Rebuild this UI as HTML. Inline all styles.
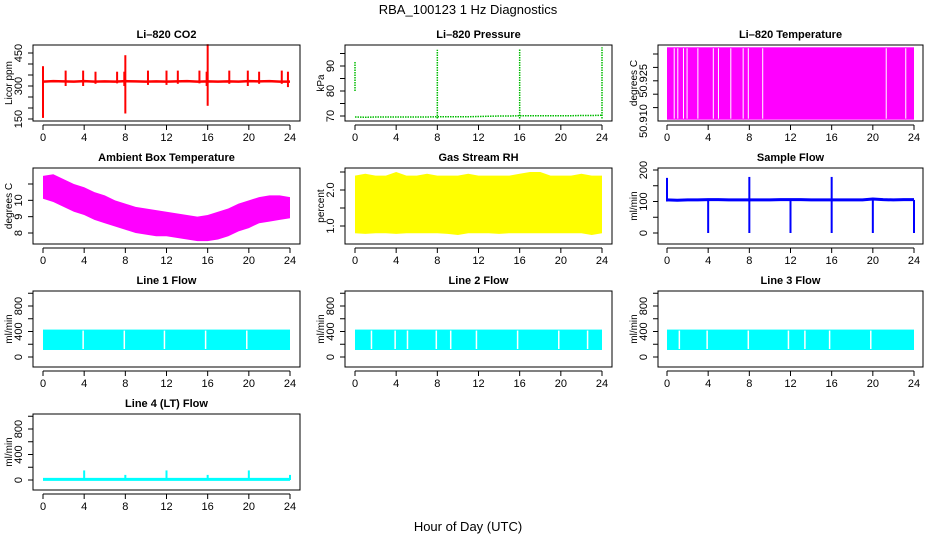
<!DOCTYPE html>
<html><head><meta charset="utf-8"><style>
body{margin:0;background:#fff}
svg text{font-family:"Liberation Sans",sans-serif;fill:#000}
</style></head><body>
<svg id="c" width="936" height="540" xmlns="http://www.w3.org/2000/svg">
<text x="468" y="14" text-anchor="middle" font-size="13">RBA_100123  1 Hz Diagnostics</text>
<text x="468" y="531" text-anchor="middle" font-size="13">Hour of Day (UTC)</text>
</svg>
<script>
const hours = [0,1,2,3,4,5,6,7,8,9,10,11,12,13,14,15,16,17,18,19,20,21,22,23,24];
const xTicks = [0,4,8,12,16,20,24];
const co2Base = [320,322,321,320,322,320,321,320,322,321,320,321,320,321,322,320,321,320,321,320,322,321,322,320,320];
const co2SpikeHours = [0,2.2,3.9,5.1,7.2,7.9,8,10.2,12,13.1,15.2,15.9,16,18.1,19.9,21,23.2,23.8];
const co2SpikeHi = [390,370,370,365,365,365,440,370,370,370,370,365,490,370,370,365,370,365];
const co2SpikeLo = [155,300,300,310,312,300,175,305,305,310,312,300,210,310,300,310,310,295];
const presBase = [69.6,69.5,69.6,69.6,69.6,69.6,69.6,69.6,69.7,69.7,69.7,69.7,69.8,69.9,70.0,70.0,70.1,70.1,70.1,70.1,70.1,70.1,70.2,70.2,70.3];
const presJumpHours = [0,8,16,24];
const presJumpLo = [80,69,69,69];
const presJumpHi = [92,96.5,97,97.5];
const tempLo = 50.9105, tempHi = 50.9375;
const tempGaps = [0.7,1.05,1.6,1.95,3.0,4.5,5.0,6.2,7.4,7.9,9.3,21.3,23.2];
const ambMax = [11.5,11.6,11.3,11.0,10.8,10.5,10.3,10.0,9.8,9.6,9.5,9.4,9.3,9.2,9.1,9.0,9.1,9.3,9.5,9.8,10.0,10.2,10.3,10.3,10.2];
const ambMin = [10.1,9.9,9.6,9.3,9.1,8.8,8.6,8.4,8.2,8.0,7.9,7.8,7.8,7.7,7.6,7.5,7.5,7.6,7.8,8.1,8.3,8.6,8.7,8.8,8.9];
const rhMax = [2.4,2.45,2.4,2.4,2.5,2.4,2.4,2.45,2.4,2.4,2.4,2.45,2.4,2.4,2.4,2.4,2.45,2.5,2.5,2.4,2.4,2.4,2.45,2.4,2.4];
const rhMin = [0.8,0.78,0.8,0.8,0.78,0.8,0.8,0.8,0.8,0.78,0.75,0.8,0.8,0.8,0.78,0.8,0.8,0.8,0.8,0.8,0.8,0.8,0.8,0.75,0.8];
const flowBase = [105,104,105,105,106,106,105,105,105,105,105,106,106,106,105,105,105,105,105,105,108,106,105,106,106];
const flowDipHours = [4,8,12,16,20,24];
const flowSpikeHours = [0,8,16];
const flowSpikeVals = [175,178,178];
const lineFlowMax = [430,430,430];
const lineFlowMin = [110,110,110];
const line1Gaps = [3.9,7.9,11.8,15.8,19.8];
const line2Gaps = [1.6,3.9,5.1,7.9,9.3,11.8,15.8,19.8,22.6];
const line3Gaps = [1.2,3.9,7.9,11.8,13.4,15.8,19.8];
const line4Base = 10;
const line4SpikeHours = [4,8,12,16,20,24];
const line4SpikeVals = [150,80,150,80,150,80];

const NS="http://www.w3.org/2000/svg";
const svg=document.getElementById('c');
function el(tag,attrs,parent){const e=document.createElementNS(NS,tag);for(const k in attrs)e.setAttribute(k,attrs[k]);(parent||svg).appendChild(e);return e;}
const cols=[{x0:33,x1:300,h0:43,h24:290},{x0:345,x1:612,h0:355,h24:602},{x0:658,x1:923,h0:667,h24:914}];
const rows=[{y0:45,y1:121},{y0:168,y1:244},{y0:291,y1:367},{y0:414,y1:490}];

function panel(name,title,col,row,yA,yB,ticks,labels,ylab,fmt){
  const C=cols[col],R=rows[row];
  const g=el('g',{});
  
  
  const sx=h=>C.h0+(C.h24-C.h0)*h/24;
  const sy=v=>yA[1]+(v-yA[0])*(yB[1]-yA[1])/(yB[0]-yA[0]);
  const t=el('text',{x:(C.x0+C.x1)/2,y:R.y0-7,'text-anchor':'middle','font-size':11,'font-weight':'bold'},g);
  t.textContent=title;
  
  
  const plot=el('g',{},g);
  
  
  const box=el('rect',{x:C.x0,y:R.y0,width:C.x1-C.x0,height:R.y1-R.y0,fill:'none',stroke:'#000','stroke-width':1},g);
  
  
  const xa=el('g',{},g);
  
  
  el('line',{x1:sx(0),x2:sx(24),y1:R.y1+4,y2:R.y1+4,stroke:'#000'},xa);
  xTicks.forEach(h=>{el('line',{x1:sx(h),x2:sx(h),y1:R.y1+4,y2:R.y1+9,stroke:'#000'},xa);
    const tt=el('text',{x:sx(h),y:R.y1+20,'text-anchor':'middle','font-size':11},xa);tt.textContent=h;});
  const ya=el('g',{},g);
  
  
  const ax=C.x0;
  ticks.forEach(v=>el('line',{x1:ax,x2:ax-5,y1:sy(v),y2:sy(v),stroke:'#000'},ya));
  labels.forEach(v=>{const yy=sy(v);const tt=el('text',{x:ax-11,y:yy,'text-anchor':'middle','font-size':11,transform:`rotate(-90 ${ax-11} ${yy})`},ya);tt.textContent=fmt?fmt(v):v;});
  const lx=C.x0-21, ly=(R.y0+R.y1)/2;
  const yl=el('text',{x:lx,y:ly,'text-anchor':'middle','font-size':10,transform:`rotate(-90 ${lx} ${ly})`},g);
  yl.textContent=ylab;
  
  
  g.insertBefore(plot,box);
  return {sx,sy,plot};
}
function vline(p,x,y1,y2,c,w,dash){const a={x1:x,x2:x,y1:y1,y2:y2,stroke:c,'stroke-width':w||1};if(dash)a['stroke-dasharray']=dash;return el('line',a,p);}
function poly(p,pts,c,w){return el('polyline',{points:pts.map(q=>q.join(',')).join(' '),fill:'none',stroke:c,'stroke-width':w||1},p);}
function band(P,mx,mn,c){const pts=hours.map((h,i)=>[P.sx(h),P.sy(mx[i])]).concat(hours.slice().reverse().map((h,j)=>[P.sx(h),P.sy(mn[24-j])]));
  el('polygon',{points:pts.map(q=>q.join(',')).join(' '),fill:c},P.plot);}

// CO2
let P=panel('co2','Li\u2013820 CO2',0,0,[150,119],[450,53],[150,200,250,300,350,400,450],[150,300,450],'Licor ppm');
poly(P.plot,hours.map((h,i)=>[P.sx(h),P.sy(co2Base[i])]),'#f00',2.5);
co2SpikeHours.forEach((h,i)=>vline(P.plot,P.sx(h),P.sy(co2SpikeLo[i]),P.sy(co2SpikeHi[i]),'#f00',2));

// Pressure
P=panel('pressure','Li\u2013820 Pressure',1,0,[70,116],[90,66],[70,75,80,85,90,95],[70,80,90],'kPa');
poly(P.plot,hours.map((h,i)=>[P.sx(h),P.sy(presBase[i])]),'#0b0',1.5).setAttribute('stroke-dasharray','1.5,1');
presJumpHours.forEach((h,i)=>vline(P.plot,P.sx(h),P.sy(presJumpLo[i]),P.sy(presJumpHi[i]),'#0b0',1.5,'1.5,1'));

// Li-820 temperature
P=panel('li820-temp','Li\u2013820 Temperature',2,0,[50.910,121],[50.935,54],[50.915,50.920,50.925,50.930,50.935],[50.910,50.925],'degrees C',v=>v.toFixed(3));
el('rect',{x:P.sx(0),y:P.sy(tempHi),width:P.sx(24)-P.sx(0),height:P.sy(tempLo)-P.sy(tempHi),fill:'#f0f'},P.plot);
tempGaps.forEach(h=>vline(P.plot,P.sx(h),P.sy(tempHi)+1,P.sy(tempLo)-1,'#fff',1));

// Ambient
P=panel('ambient-temp','Ambient Box Temperature',0,1,[8,233],[11,184],[8,9,10,11],[8,9,10],'degrees C');
band(P,ambMax,ambMin,'#f0f');

// RH
P=panel('gas-rh','Gas Stream RH',1,1,[1.0,226],[2.0,190],[1.0,1.5,2.0,2.5],[1.0,2.0],'percent',v=>v.toFixed(1));
band(P,rhMax,rhMin,'#ff0');

// Sample flow
P=panel('sample-flow','Sample Flow',2,1,[0,233],[200,170],[0,50,100,150,200],[0,100,200],'ml/min');
poly(P.plot,hours.map((h,i)=>[P.sx(h),P.sy(flowBase[i])]),'#00f',3);
flowDipHours.forEach(h=>vline(P.plot,P.sx(h),P.sy(0),P.sy(105),'#00f',2));
flowSpikeHours.forEach((h,i)=>vline(P.plot,P.sx(h),P.sy(100),P.sy(flowSpikeVals[i]),'#00f',2));

// Line flows
const lineGaps=[line1Gaps,line2Gaps,line3Gaps];
[['line1-flow','Line 1 Flow'],['line2-flow','Line 2 Flow'],['line3-flow','Line 3 Flow']].forEach((d,k)=>{
  const Q=panel(d[0],d[1],k,2,[0,357],[800,306],[0,200,400,600,800,1000],[0,400,800],'ml/min');
  el('rect',{x:Q.sx(0),y:Q.sy(lineFlowMax[k]),width:Q.sx(24)-Q.sx(0),height:Q.sy(lineFlowMin[k])-Q.sy(lineFlowMax[k]),fill:'#0ff'},Q.plot);
  lineGaps[k].forEach(h=>vline(Q.plot,Q.sx(h),Q.sy(lineFlowMax[k])+1,Q.sy(lineFlowMin[k])-1,'#fff',1.5));
});

// Line 4
P=panel('line4-flow','Line 4 (LT) Flow',0,3,[0,480],[800,429],[0,200,400,600,800,1000],[0,400,800],'ml/min');
poly(P.plot,[[P.sx(0),P.sy(line4Base)],[P.sx(24),P.sy(line4Base)]],'#0ff',3);
line4SpikeHours.forEach((h,i)=>vline(P.plot,P.sx(h),P.sy(0),P.sy(line4SpikeVals[i]),'#0ff',2));
</script>
</body></html>
